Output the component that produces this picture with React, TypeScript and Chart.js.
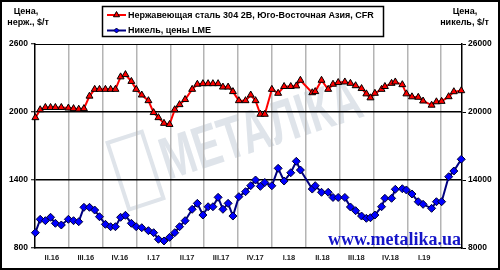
import React, { useEffect, useRef } from 'react';
import { Chart, registerables } from 'chart.js';
import { drawPoint } from 'chart.js/helpers';

Chart.register(...registerables);

// ---------- data ----------
const DATES = [
  '2016-04-02', '2016-04-15', '2016-04-29', '2016-05-13', '2016-05-26', '2016-06-11', '2016-06-30',
  '2016-07-14', '2016-07-28', '2016-08-11', '2016-08-26', '2016-09-09', '2016-09-22',
  '2016-10-08', '2016-10-22', '2016-11-04', '2016-11-18', '2016-12-01', '2016-12-17', '2016-12-30',
  '2017-01-14', '2017-02-01', '2017-02-15', '2017-02-28', '2017-03-15', '2017-03-30',
  '2017-04-13', '2017-04-26', '2017-05-11', '2017-05-30', '2017-06-13', '2017-06-28',
  '2017-07-12', '2017-07-25', '2017-08-08', '2017-08-21', '2017-09-04', '2017-09-17',
  '2017-10-03', '2017-10-21', '2017-11-04', '2017-11-17', '2017-11-30', '2017-12-12', '2017-12-31',
  '2018-01-17', '2018-02-02', '2018-02-20', '2018-03-07', '2018-03-18',
  '2018-04-19', '2018-04-27', '2018-05-14', '2018-06-01', '2018-06-14', '2018-06-28',
  '2018-07-16', '2018-07-31', '2018-08-14', '2018-08-30', '2018-09-12', '2018-09-23',
  '2018-10-05', '2018-10-23', '2018-11-01', '2018-11-19', '2018-11-29', '2018-12-18', '2018-12-29',
  '2019-01-13', '2019-01-30', '2019-02-12', '2019-03-07', '2019-03-20',
  '2019-04-03', '2019-04-22', '2019-05-06', '2019-05-26',
];

const STEEL = [
  1950, 2020, 2040, 2040, 2040, 2040, 2035,
  2030, 2025, 2030, 2140, 2200, 2200,
  2200, 2200, 2200, 2310, 2330, 2270, 2200,
  2150, 2100, 1995, 1950, 1900, 1890,
  2020, 2065, 2110, 2200, 2245, 2250,
  2250, 2250, 2250, 2220, 2220, 2180,
  2100, 2100, 2150, 2100, 1980, 1980, 2200,
  2165, 2225, 2225, 2230, 2280,
  2170, 2180, 2280, 2200, 2245, 2260,
  2265, 2253, 2232, 2207, 2160, 2125,
  2165, 2200, 2225, 2253, 2265, 2241, 2160,
  2134, 2130, 2097, 2060, 2090,
  2094, 2135, 2179, 2188,
];

const NICKEL = [
  9350, 10530, 10410, 10710, 10180, 10030, 10530,
  10410, 10320, 11590, 11590, 11350, 10760,
  10090, 9880, 9880, 10710, 10885, 10180, 9880,
  9790, 9530, 9350, 8770, 8620, 8940,
  9350, 9880, 10410, 11415, 11940, 10910,
  11640, 11640, 12470, 11415, 11940, 10820,
  12530, 12970, 13500, 14000, 13440, 13780, 13490,
  15030, 13910, 14640, 15650, 14880,
  13200, 13500, 12915, 12915, 12460, 12460,
  12460, 11620, 11290, 10820, 10620, 10670,
  10910, 11640, 12385, 12385, 13180, 13230, 13120,
  12765, 12085, 11856, 11500, 12085,
  12085, 14290, 14790, 15830,
];

const QUARTER_STARTS = [
  '2016-04-01', '2016-07-01', '2016-10-01', '2017-01-01', '2017-04-01', '2017-07-01', '2017-10-01',
  '2018-01-01', '2018-04-01', '2018-07-01', '2018-10-01', '2019-01-01', '2019-04-01',
];
const QUARTER_LABELS = ['II.16', 'III.16', 'IV.16', 'I.17', 'II.17', 'III.17', 'IV.17', 'I.18', 'II.18', 'III.18', 'IV.18', 'I.19'];
const X_END = '2019-05-28';

const STEEL_TICKS = [800, 1400, 2000, 2600];
const NICKEL_TICKS = [8000, 14000, 20000, 26000];

const STEEL_LABEL = 'Нержавеющая сталь 304 2B, Юго-Восточная Азия, CFR';
const NICKEL_LABEL = 'Никель, цены LME';
const LEFT_TITLE = ['Цена,', 'нерж., $/т'];
const RIGHT_TITLE = ['Цена,', 'никель, $/т'];
const SITE = 'www.metalika.ua';
const WATERMARK = 'МЕТАЛІКА';

// ---------- helpers ----------
const FONT = '"Liberation Sans", Arial, sans-serif';
const ORIGIN = Date.UTC(2016, 3, 1);
const dayOf = (s: string) => {
  const [y, m, d] = s.split('-').map(Number);
  return (Date.UTC(y, m - 1, d) - ORIGIN) / 86400000;
};
const BOUNDS = QUARTER_STARTS.slice(1).map(dayOf);
const MIDS = QUARTER_LABELS.map((_, k) => (dayOf(QUARTER_STARTS[k]) + dayOf(QUARTER_STARTS[k + 1])) / 2);

const STEEL_STYLE = { line: '#ff0000', fill: '#ff0000', edge: '#000000', shape: 'triangle', r: 4 };
const NICKEL_STYLE = { line: '#000080', fill: '#0000ff', edge: '#000033', shape: 'rectRot', r: 4 };

const decor = {
  id: 'decor',
  beforeDraw(chart: any) {
    const { ctx, width, height } = chart;
    ctx.save();
    ctx.fillStyle = '#ffffff';
    ctx.fillRect(0, 0, width, height);
    // watermark
    ctx.translate(168, 180);
    ctx.rotate((-18 * Math.PI) / 180);
    ctx.fillStyle = '#dfe4ea';
    ctx.strokeStyle = '#dfe4ea';
    ctx.lineWidth = 4;
    ctx.strokeRect(-46, -54, 36, 70);
    ctx.scale(0.68, 1);
    ctx.font = `bold 60px ${FONT}`;
    ctx.textBaseline = 'alphabetic';
    ctx.textAlign = 'left';
    ctx.fillText(WATERMARK, 0, 0);
    ctx.restore();
  },
  beforeDatasetsDraw(chart: any) {
    const { ctx, chartArea } = chart;
    ctx.save();
    ctx.strokeStyle = '#000';
    ctx.lineWidth = 1;
    ctx.beginPath();
    ctx.moveTo(chartArea.left, chartArea.top + 0.5);
    ctx.lineTo(chartArea.right, chartArea.top + 0.5);
    ctx.stroke();
    ctx.restore();
  },
  afterDraw(chart: any) {
    const { ctx } = chart;
    ctx.save();
    // legend
    ctx.fillStyle = '#fff';
    ctx.fillRect(102, 6, 282, 31);
    ctx.strokeStyle = '#000';
    ctx.lineWidth = 1.5;
    ctx.strokeRect(102.5, 6.5, 281, 30);
    const entries = [
      { label: STEEL_LABEL, st: STEEL_STYLE, y: 15 },
      { label: NICKEL_LABEL, st: NICKEL_STYLE, y: 30.5 },
    ];
    entries.forEach((e) => {
      ctx.strokeStyle = e.st.line;
      ctx.lineWidth = 2;
      ctx.beginPath();
      ctx.moveTo(107, e.y);
      ctx.lineTo(126, e.y);
      ctx.stroke();
      ctx.fillStyle = e.st.fill;
      ctx.strokeStyle = e.st.edge;
      ctx.lineWidth = 1;
      drawPoint(ctx, { pointStyle: e.st.shape, radius: e.st.shape === 'triangle' ? 3.5 : 2.5, rotation: 0, borderWidth: 1 } as any, 116.5, e.y);
      ctx.fillStyle = '#000';
      ctx.font = `bold 9px ${FONT}`;
      ctx.textAlign = 'left';
      ctx.textBaseline = 'middle';
      ctx.fillText(e.label, 128, e.y + 0.5);
    });
    // axis titles
    ctx.fillStyle = '#000';
    ctx.font = `bold 9px ${FONT}`;
    ctx.textAlign = 'center';
    ctx.textBaseline = 'middle';
    ctx.fillText(LEFT_TITLE[0], 26, 12);
    ctx.fillText(LEFT_TITLE[1], 28, 22.5);
    ctx.fillText(RIGHT_TITLE[0], 465, 12);
    ctx.fillText(RIGHT_TITLE[1], 464.5, 22.5);
    // site
    ctx.fillStyle = '#1414c8';
    ctx.font = 'bold 18px "Liberation Serif", "Times New Roman", serif';
    ctx.textAlign = 'left';
    ctx.textBaseline = 'alphabetic';
    ctx.fillText(SITE, 328, 245);
    // outer frame
    ctx.strokeStyle = '#000';
    ctx.lineWidth = 2;
    ctx.strokeRect(1, 1, 498, 268);
    ctx.restore();
  },
};

export default function App() {
  const ref = useRef<HTMLCanvasElement>(null);
  useEffect(() => {
    document.body.style.margin = '0';
    Chart.defaults.font.family = FONT;
    const xs = DATES.map(dayOf);
    const chart = new Chart(ref.current as HTMLCanvasElement, {
      type: 'line',
      data: {
        datasets: [
          {
            label: STEEL_LABEL,
            data: xs.map((x, i) => ({ x, y: STEEL[i] })),
            yAxisID: 'y',
            borderColor: STEEL_STYLE.line,
            borderWidth: 2,
            pointStyle: STEEL_STYLE.shape as any,
            pointRadius: STEEL_STYLE.r,
            pointBackgroundColor: STEEL_STYLE.fill,
            pointBorderColor: STEEL_STYLE.edge,
            pointBorderWidth: 1,
            tension: 0,
            clip: 10,
          },
          {
            label: NICKEL_LABEL,
            data: xs.map((x, i) => ({ x, y: NICKEL[i] })),
            yAxisID: 'y2',
            borderColor: NICKEL_STYLE.line,
            borderWidth: 2,
            pointStyle: NICKEL_STYLE.shape as any,
            pointRadius: NICKEL_STYLE.r,
            pointBackgroundColor: NICKEL_STYLE.fill,
            pointBorderColor: NICKEL_STYLE.edge,
            pointBorderWidth: 1,
            tension: 0,
            clip: 10,
          },
        ],
      },
      options: {
        animation: false,
        responsive: false,
        devicePixelRatio: 1,
        events: [],
        layout: { padding: { top: 44, left: 0, right: 0, bottom: 0 } },
        plugins: { legend: { display: false }, tooltip: { enabled: false }, title: { display: false } },
        scales: {
          x: {
            type: 'linear',
            min: 0,
            max: dayOf(X_END),
            afterBuildTicks: (s: any) => {
              s.ticks = [...BOUNDS, ...MIDS].sort((a, b) => a - b).map((v) => ({ value: v }));
            },
            afterFit: (s: any) => {
              s.height = 22;
            },
            ticks: {
              autoSkip: false,
              maxRotation: 0,
              minRotation: 0,
              padding: 5,
              color: '#222',
              font: { size: 7.5, weight: 'bold' },
              callback: (v: any) => {
                const k = MIDS.indexOf(Number(v));
                return k >= 0 ? QUARTER_LABELS[k] : '';
              },
            },
            grid: {
              drawTicks: false,
              lineWidth: 1.5,
              color: (c: any) => (c.tick && BOUNDS.includes(c.tick.value) ? '#b4b4b4' : 'rgba(0,0,0,0)'),
            },
            border: { color: '#000', width: 1.5 },
          },
          y: {
            position: 'left',
            min: STEEL_TICKS[0],
            max: STEEL_TICKS[STEEL_TICKS.length - 1],
            afterBuildTicks: (s: any) => {
              s.ticks = STEEL_TICKS.map((v) => ({ value: v }));
            },
            afterFit: (s: any) => {
              s.width = 35;
            },
            ticks: { padding: 3, color: '#000', font: { size: 8.5, weight: 'bold' }, callback: (v: any) => String(v) },
            grid: {
              lineWidth: 1.5,
              tickLength: 4,
              tickWidth: 1,
              tickColor: '#000',
              color: (c: any) =>
                c.tick && c.tick.value > STEEL_TICKS[0] && c.tick.value < STEEL_TICKS[STEEL_TICKS.length - 1]
                  ? '#000'
                  : 'rgba(0,0,0,0)',
            },
            border: { color: '#000', width: 1.5 },
          },
          y2: {
            position: 'right',
            min: NICKEL_TICKS[0],
            max: NICKEL_TICKS[NICKEL_TICKS.length - 1],
            afterBuildTicks: (s: any) => {
              s.ticks = NICKEL_TICKS.map((v) => ({ value: v }));
            },
            afterFit: (s: any) => {
              s.width = 38;
            },
            ticks: { padding: 2, color: '#000', font: { size: 8.5, weight: 'bold' }, callback: (v: any) => String(v) },
            grid: { drawOnChartArea: false, tickLength: 4, tickWidth: 1, tickColor: '#000' },
            border: { color: '#000', width: 1.5 },
          },
        },
      } as any,
      plugins: [decor],
    });
    return () => chart.destroy();
  }, []);
  return (
    <div style={{ width: 500, height: 270 }}>
      <canvas ref={ref} width={500} height={270} style={{ display: 'block', width: 500, height: 270 }} />
    </div>
  );
}
